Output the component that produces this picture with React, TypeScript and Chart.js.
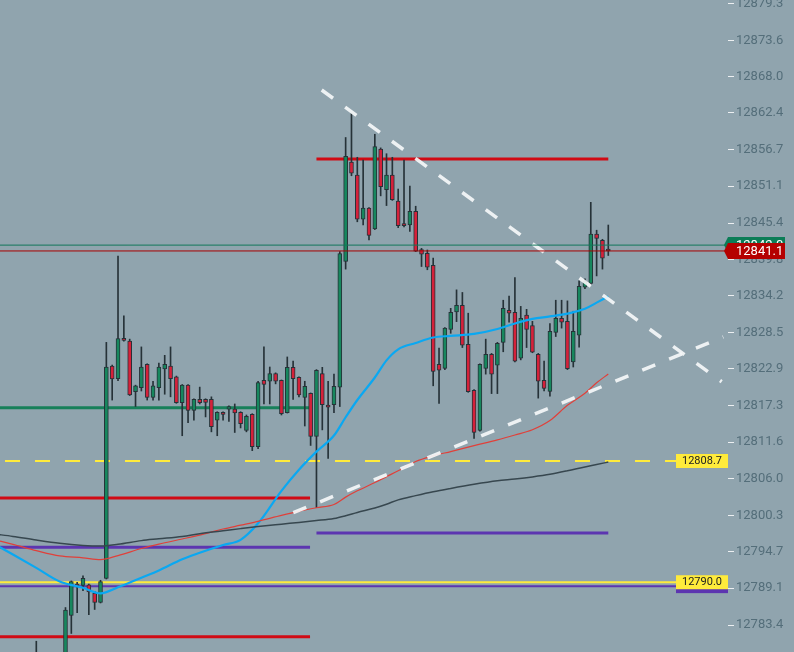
import React, { useEffect, useRef } from 'react';
import Chart from 'chart.js/auto';

// ---- Candles (index = bar number, null = bar outside the visible price range) ----
const opens: (number | null)[] = [
  12778.5, null, null, null, null, 12777.5, 12784.9, 12789.6, 12789.5, 12789.6,
  12788.3, 12786.9, 12790.6, 12823.35, 12821.4, 12827.6, 12827.2, 12819.4, 12820.0, 12823.6,
  12818.5, 12820.0, 12822.9, 12823.35, 12821.7, 12817.7, 12820.4, 12816.5, 12818.2, 12818.2,
  12818.2, 12815.0, 12816.2, 12816.7, 12816.7, 12816.2, 12813.4, 12815.9, 12810.9, 12821.15,
  12821.0, 12822.2, 12821.15, 12816.15, 12823.15, 12821.6, 12818.5, 12819.15, 12812.5, 12822.2,
  12817.3, 12817.4, 12820.1, 12839.5, 12854.8, 12852.8, 12846.0, 12847.7, 12844.5, 12856.8,
  12850.55, 12852.8, 12848.8, 12845.2, 12845.1, 12847.2, 12841.3, 12840.75, 12838.9, 12823.6,
  12823.0, 12829.0, 12831.7, 12832.7, 12826.7, 12819.6, 12813.4, 12823.0, 12825.15, 12823.5,
  12827.0, 12831.95, 12831.65, 12824.55, 12831.2, 12829.6, 12825.15, 12821.15, 12819.45, 12828.55,
  12830.7, 12830.25, 12824.0, 12828.1, 12835.5, 12836.1, 12843.7, 12842.75, 12841.2,
];
const highs: (number | null)[] = [
  12780.9, null, null, null, null, 12786.1, 12790.2, 12790.0, 12791.0, 12789.7,
  12788.6, 12790.3, 12827.0, 12823.5, 12840.3, 12831.1, 12827.5, 12820.4, 12826.3, 12823.7,
  12821.0, 12823.8, 12825.0, 12826.3, 12821.8, 12820.5, 12820.5, 12818.3, 12820.1, 12818.3,
  12818.6, 12816.3, 12816.3, 12817.2, 12817.5, 12816.3, 12815.8, 12816.0, 12821.0, 12826.3,
  12823.2, 12822.3, 12821.2, 12824.75, 12824.1, 12821.7, 12821.0, 12819.2, 12822.8, 12823.15,
  12821.0, 12822.1, 12841.0, 12858.6, 12862.3, 12855.55, 12855.1, 12847.8, 12859.1, 12857.0,
  12856.1, 12855.55, 12850.65, 12855.1, 12851.1, 12848.0, 12841.5, 12841.25, 12840.0, 12826.1,
  12829.3, 12832.25, 12835.1, 12834.7, 12831.5, 12819.7, 12823.7, 12827.5, 12825.3, 12827.0,
  12833.5, 12834.15, 12837.0, 12832.55, 12832.1, 12830.25, 12825.3, 12824.1, 12829.9, 12833.5,
  12833.5, 12833.4, 12831.8, 12836.5, 12836.8, 12848.6, 12844.3, 12842.9, 12845.1,
];
const lows: (number | null)[] = [
  12775.0, null, null, null, null, 12776.5, 12782.1, 12785.3, 12788.7, 12785.0,
  12785.8, 12786.8, 12790.5, 12818.1, 12821.1, 12827.2, 12818.8, 12817.1, 12819.5, 12818.1,
  12818.1, 12818.1, 12819.0, 12818.6, 12817.6, 12812.6, 12814.6, 12815.0, 12817.5, 12815.5,
  12813.2, 12812.6, 12815.0, 12814.8, 12813.1, 12813.8, 12813.2, 12810.3, 12810.6, 12817.5,
  12817.5, 12820.6, 12815.8, 12816.1, 12818.2, 12818.6, 12814.1, 12811.1, 12801.5, 12813.5,
  12809.1, 12816.15, 12817.1, 12838.3, 12852.7, 12845.6, 12845.1, 12842.8, 12844.4, 12849.6,
  12848.1, 12848.9, 12844.7, 12844.8, 12844.1, 12841.0, 12838.7, 12838.2, 12820.3, 12817.6,
  12822.8, 12828.4, 12830.2, 12826.2, 12819.3, 12812.2, 12813.3, 12822.1, 12819.1, 12819.1,
  12825.55, 12830.1, 12824.0, 12824.3, 12826.2, 12825.4, 12818.4, 12819.5, 12818.7, 12827.9,
  12829.2, 12822.8, 12823.2, 12826.25, 12835.3, 12835.9, 12837.25, 12838.3, 12840.4,
];
const closes: (number | null)[] = [
  12777.0, null, null, null, null, 12785.7, 12790.1, 12789.4, 12790.6, 12788.5,
  12786.9, 12790.1, 12823.2, 12821.35, 12827.6, 12827.3, 12818.9, 12820.3, 12823.2, 12818.5,
  12820.3, 12823.2, 12823.6, 12821.4, 12817.7, 12820.4, 12816.5, 12818.2, 12817.7, 12817.75,
  12814.0, 12816.2, 12815.9, 12817.1, 12816.1, 12814.45, 12815.6, 12810.9, 12820.8, 12820.5,
  12822.2, 12821.0, 12816.0, 12823.15, 12821.4, 12818.9, 12820.2, 12812.5, 12822.7, 12817.4,
  12817.0, 12820.2, 12840.7, 12855.7, 12853.1, 12846.0, 12847.7, 12843.5, 12857.2, 12851.0,
  12852.8, 12849.0, 12845.0, 12845.0, 12847.2, 12841.05, 12840.6, 12838.6, 12822.5, 12822.7,
  12829.2, 12831.65, 12832.7, 12826.55, 12819.4, 12813.1, 12823.6, 12825.15, 12822.1, 12826.85,
  12832.25, 12831.5, 12824.1, 12830.7, 12829.0, 12825.5, 12821.0, 12819.9, 12828.7, 12830.7,
  12830.1, 12822.95, 12828.7, 12835.65, 12836.4, 12843.7, 12843.05, 12840.0, 12841.1,
];

// ---- Moving averages (sampled at bar numbers) ----
const maIdx = [-7, -4, 0, 4, 8, 11, 14, 18, 21, 25, 28, 32, 35, 38, 42, 45, 48, 51, 53, 55, 58, 60, 62, 65, 68, 71, 75, 79, 82, 85, 88, 91, 94, 96, 98];
const maBlue = [12795.77, 12794.28, 12792.22, 12790.11, 12789.15, 12788.29, 12789.22, 12790.7, 12791.82, 12793.55, 12794.54, 12795.74, 12796.54, 12799.09, 12804.1, 12807.36, 12810.15, 12812.63, 12815.45, 12818.11, 12821.58, 12824.23, 12825.93, 12826.9, 12827.75, 12828.0, 12828.3, 12829.06, 12829.92, 12830.62, 12831.0, 12831.44, 12832.18, 12833.13, 12834.07];
const maRed = [12796.53, 12795.85, 12794.88, 12794.06, 12793.77, 12793.5, 12794.11, 12795.2, 12795.88, 12796.67, 12797.28, 12798.21, 12798.8, 12799.4, 12800.31, 12800.94, 12801.49, 12802.0, 12803.13, 12804.1, 12805.38, 12806.29, 12807.19, 12808.62, 12809.49, 12810.16, 12811.07, 12811.95, 12812.71, 12813.53, 12814.95, 12817.29, 12819.16, 12820.76, 12822.12];
const maGrey = [12797.42, 12797.07, 12796.5, 12796.0, 12795.68, 12795.59, 12795.86, 12796.42, 12796.7, 12797.07, 12797.48, 12797.93, 12798.27, 12798.59, 12798.96, 12799.23, 12799.51, 12799.84, 12800.26, 12800.77, 12801.45, 12802.03, 12802.71, 12803.36, 12803.96, 12804.47, 12805.1, 12805.64, 12805.92, 12806.25, 12806.65, 12807.19, 12807.79, 12808.16, 12808.54];

// ---- Horizontal levels (price, first bar, last bar) ----
const levelPrices = [12816.9, 12855.3, 12803.0, 12795.4, 12797.6, 12781.6];
const levelFrom = [-8, 48, -8, -8, 48, -8];
const levelTo = [46.9, 98, 46.9, 46.9, 98, 46.9];
const yellowLevels = [12808.7, 12790.0]; // dashed, solid
const purpleFullLevel = 12789.4;
const askPrice = 12842.0;
const bidPrice = 12841.1;

// ---- Trend lines (bar, price) ----
const trendDownBars = [48.9, 117.43];
const trendDownPrices = [12865.93, 12820.93];
const trendUpBars = [44.03, 117.7];
const trendUpPrices = [12800.72, 12827.83];

// ---- Axis ----
const yTicks = [12783.4, 12789.1, 12794.7, 12800.3, 12806.0, 12811.6, 12817.3, 12822.9, 12828.5, 12834.2, 12839.8, 12845.4, 12851.1, 12856.7, 12862.4, 12868.0, 12873.6, 12879.3];
const Y_MIN = 12779.24;
const Y_MAX = 12879.81;
const X_MIN = -6.22;
const X_MAX = 118.51;

// ---- Styles ----
const BG = '#90a4ae';
const UP = '#17875e';
const DOWN = '#d5213a';
const OUTLINE = '#263238';
const levelColors = ['#17805a', '#d10a14', '#d10a14', '#5c35b0', '#5c35b0', '#d10a14'];

const tagsPlugin = {
  id: 'tags',
  afterDatasetsDraw(chart: any) {
    const { ctx, chartArea } = chart;
    const y = chart.scales.y;
    const right = chartArea.right;
    ctx.save();
    ctx.textBaseline = 'middle';
    const box = (v: number, fill: string, text: string) => {
      const py = y.getPixelForValue(v);
      ctx.fillStyle = fill;
      ctx.fillRect(right - 52, py - 7, 52, 14);
      if (text) {
        ctx.fillStyle = '#212121';
        ctx.font = '11px Roboto';
        ctx.textAlign = 'center';
        ctx.fillText(text, right - 26, py + 0.5);
      }
    };
    box(purpleFullLevel, '#5c35b0', '');
    yellowLevels.forEach((v) => box(v, '#ffeb3b', v.toFixed(1)));
    const tag = (v: number, fill: string) => {
      const py = y.getPixelForValue(v);
      ctx.fillStyle = fill;
      ctx.beginPath();
      ctx.moveTo(right - 4, py);
      ctx.lineTo(right, py - 8);
      ctx.lineTo(right + 57, py - 8);
      ctx.lineTo(right + 57, py + 8);
      ctx.lineTo(right, py + 8);
      ctx.closePath();
      ctx.fill();
      ctx.fillStyle = '#ffffff';
      ctx.font = '13px Roboto';
      ctx.textAlign = 'left';
      ctx.fillText(v.toFixed(1), right + 8, py + 0.5);
    };
    tag(askPrice, '#0b7d57');
    tag(bidPrice, '#b50000');
    ctx.restore();
  },
};

export default function App() {
  const ref = useRef<HTMLCanvasElement>(null);
  useEffect(() => {
    const canvas = ref.current;
    if (!canvas) return;
    const wickData: any[] = [];
    const bodyData: any[] = [];
    const bodyColors: string[] = [];
    opens.forEach((o, i) => {
      const h = highs[i], l = lows[i], c = closes[i];
      if (o == null || h == null || l == null || c == null) return;
      wickData.push({ x: i, y: [l, h] });
      bodyData.push({ x: i, y: [o, c] });
      bodyColors.push(c >= o ? UP : DOWN);
    });
    const hline = (v: number, a: number, b: number) => [{ x: a, y: v }, { x: b, y: v }];
    const lineBase = { type: 'line', pointRadius: 0, fill: false, borderCapStyle: 'butt' };
    const datasets: any[] = [];
    levelPrices.forEach((v, k) => {
      datasets.push({ ...lineBase, data: hline(v, levelFrom[k], levelTo[k]), borderColor: levelColors[k], borderWidth: 3, order: 50 });
    });
    datasets.push({ ...lineBase, data: hline(purpleFullLevel, -8, 120), borderColor: '#5c35b0', borderWidth: 2, order: 50 });
    datasets.push({ ...lineBase, data: hline(yellowLevels[0], X_MIN, 120), borderColor: '#ffeb3b', borderWidth: 2, borderDash: [15, 15], borderDashOffset: 25, order: 49 });
    datasets.push({ ...lineBase, data: hline(yellowLevels[1], -8, 120), borderColor: '#ffeb3b', borderWidth: 2, order: 49 });
    const ma = (vals: number[], color: string, w: number) => ({
      ...lineBase,
      data: maIdx.map((x, k) => ({ x, y: vals[k] })),
      borderColor: color,
      borderWidth: w,
      cubicInterpolationMode: 'monotone',
      order: 25,
    });
    datasets.push(ma(maGrey, '#37474f', 1.5));
    datasets.push(ma(maRed, '#e0403a', 1.2));
    datasets.push(ma(maBlue, '#0aa8f2', 2.2));
    datasets.push({ type: 'bar', data: wickData, backgroundColor: OUTLINE, borderWidth: 0, barThickness: 1, grouped: false, order: 31 });
    datasets.push({ type: 'bar', data: bodyData, backgroundColor: bodyColors, borderColor: OUTLINE, borderWidth: 1, borderSkipped: false, barThickness: 4, minBarLength: 2, grouped: false, order: 30 });
    datasets.push({ ...lineBase, data: trendDownBars.map((x, k) => ({ x, y: trendDownPrices[k] })), borderColor: 'rgba(245,247,248,0.92)', borderWidth: 3.5, borderDash: [14, 15], order: 20 });
    datasets.push({ ...lineBase, data: trendUpBars.map((x, k) => ({ x, y: trendUpPrices[k] })), borderColor: 'rgba(245,247,248,0.92)', borderWidth: 3.5, borderDash: [14, 15], order: 20 });
    datasets.push({ ...lineBase, data: hline(askPrice, -8, 120), borderColor: '#12775a', borderWidth: 1, order: 10 });
    datasets.push({ ...lineBase, data: hline(bidPrice, -8, 120), borderColor: '#a80000', borderWidth: 1, order: 10 });

    const chart = new Chart(canvas, {
      type: 'bar',
      data: { datasets },
      plugins: [tagsPlugin],
      options: {
        animation: false,
        responsive: false,
        events: [],
        layout: { padding: 0 },
        plugins: { legend: { display: false }, tooltip: { enabled: false } },
        scales: {
          x: { type: 'linear', min: X_MIN, max: X_MAX, display: false, offset: false },
          y: {
            position: 'right',
            min: Y_MIN,
            max: Y_MAX,
            afterBuildTicks: (s: any) => {
              s.ticks = yTicks.map((v) => ({ value: v }));
            },
            afterFit: (s: any) => {
              s.width = 66;
              s.paddingTop = 0;
              s.paddingBottom = 0;
            },
            grid: { drawOnChartArea: false, drawTicks: true, tickLength: 6, tickColor: '#eceff1' },
            border: { display: false },
            ticks: {
              autoSkip: false,
              color: '#546e7a',
              padding: 2,
              font: { family: 'Roboto', size: 13 },
              callback: (v: any) => Number(v).toFixed(1),
            },
          },
        },
      } as any,
    } as any);
    return () => chart.destroy();
  }, []);
  return (
    <div style={{ position: 'absolute', left: 0, top: 0, width: 794, height: 652, background: BG }}>
      <canvas ref={ref} width={794} height={652} style={{ display: 'block' }} />
    </div>
  );
}
